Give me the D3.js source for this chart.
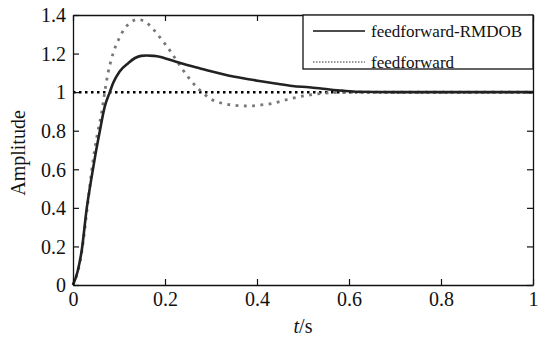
<!DOCTYPE html>
<html><head><meta charset="utf-8">
<script src="https://cdn.jsdelivr.net/npm/d3@7"></script>
<style>body{margin:0;background:#fff}svg{display:block}text{font-family:"Liberation Serif","Times New Roman",serif;fill:#111}</style>
</head><body><svg id="c" width="547" height="339"></svg>
<script>
const seriesNames = ["feedforward-RMDOB", "feedforward"];
const xTicks = [0, 0.2, 0.4, 0.6, 0.8, 1];
const yTicks = [0, 0.2, 0.4, 0.6, 0.8, 1, 1.2, 1.4];
const xTickLabels = ["0", "0.2", "0.4", "0.6", "0.8", "1"];
const yTickLabels = ["0", "0.2", "0.4", "0.6", "0.8", "1", "1.2", "1.4"];
const tRMDOB = [0,0.01,0.019,0.03,0.04,0.049,0.058,0.069,0.08,0.087,0.101,0.12,0.135,0.148,0.16,0.175,0.188,0.205,0.224,0.25,0.275,0.3,0.333,0.37,0.405,0.44,0.477,0.513,0.55,0.585,0.62,0.7,0.8,1.0];
const yRMDOB = [0,0.07,0.18,0.4,0.553,0.68,0.795,0.925,1.0,1.046,1.106,1.15,1.177,1.188,1.19,1.188,1.184,1.172,1.158,1.14,1.124,1.108,1.089,1.072,1.058,1.045,1.032,1.025,1.016,1.008,1.002,1.0,1.0,1.0];
const tFF = [0,0.019,0.03,0.04,0.047,0.054,0.062,0.069,0.076,0.083,0.093,0.102,0.112,0.123,0.132,0.141,0.15,0.16,0.175,0.188,0.2,0.21,0.225,0.239,0.253,0.268,0.283,0.297,0.32,0.347,0.365,0.383,0.41,0.434,0.455,0.477,0.513,0.55,0.6,0.7,1.0];
const yFF = [0,0.17,0.38,0.58,0.7,0.795,0.89,1.0,1.098,1.167,1.24,1.287,1.33,1.357,1.372,1.377,1.373,1.36,1.325,1.287,1.25,1.218,1.165,1.115,1.07,1.028,0.995,0.968,0.945,0.933,0.929,0.928,0.934,0.942,0.955,0.968,0.985,0.995,1.0,1.0,1.0];
const refT = [0, 1];
const refY = [1, 1];

const svg = d3.select("#c");
const L = 73, R = 533, T = 15, B = 285;
const x = d3.scaleLinear().domain([0, 1]).range([L, R]);
const y = d3.scaleLinear().domain([0, 1.4]).range([B, T]);

const g = svg.append("g");
const line = d3.line().x(d => x(d[0])).y(d => y(d[1])).curve(d3.curveMonotoneX);
g.append("path").datum(d3.zip(refT, refY)).attr("d", line)
  .attr("fill", "none").attr("stroke", "#000").attr("stroke-width", 2.5).attr("stroke-dasharray", "2.5,3.5");
g.append("path").datum(d3.zip(tFF, yFF)).attr("d", line)
  .attr("fill", "none").attr("stroke", "#777").attr("stroke-width", 2.8).attr("stroke-dasharray", "2.8,5.5");
g.append("path").datum(d3.zip(tRMDOB, yRMDOB)).attr("d", line)
  .attr("fill", "none").attr("stroke", "#222").attr("stroke-width", 2.6);

const fmtX = (d, i) => xTickLabels[i];
const fmtY = (d, i) => yTickLabels[i];
const ax = svg.append("g").attr("transform", `translate(0,${B})`)
  .call(d3.axisBottom(x).tickValues(xTicks).tickFormat(fmtX).tickSizeInner(-6).tickSizeOuter(0).tickPadding(7));
const axT = svg.append("g").attr("transform", `translate(0,${T})`)
  .call(d3.axisTop(x).tickValues(xTicks).tickFormat("").tickSizeInner(-6).tickSizeOuter(0));
const ay = svg.append("g").attr("transform", `translate(${L},0)`)
  .call(d3.axisLeft(y).tickValues(yTicks).tickFormat(fmtY).tickSizeInner(-6).tickSizeOuter(0).tickPadding(7));
const ayR = svg.append("g").attr("transform", `translate(${R},0)`)
  .call(d3.axisRight(y).tickValues(yTicks).tickFormat("").tickSizeInner(-6).tickSizeOuter(0));
[ax, axT, ay, ayR].forEach(a => {
  a.attr("font-family", '"Liberation Serif",serif');
  a.selectAll("path.domain").attr("stroke", "#111").attr("stroke-width", 1.3);
  a.selectAll(".tick line").attr("stroke", "#111").attr("stroke-width", 1.2);
  a.selectAll("text").style("font-family", '"Liberation Serif",serif').style("font-size", "20px").attr("fill", "#111");
});
ax.selectAll("text").attr("dy", "0.68em");
ay.selectAll("text").attr("dy", "0.34em");

svg.append("text").attr("x", 303).attr("y", 333).attr("text-anchor", "middle").style("font-size", "20px")
  .html('<tspan font-style="italic">t</tspan>/s');
svg.append("text").attr("transform", "translate(25,153) rotate(-90)").attr("text-anchor", "middle")
  .style("font-size", "20px").text("Amplitude");

const lg = svg.append("g");
lg.append("rect").attr("x", 303).attr("y", T).attr("width", R - 303).attr("height", 54)
  .attr("fill", "#fff").attr("stroke", "#111").attr("stroke-width", 1.3);
const legY = [31, 62];
const legStyle = [{c: "#111", w: 1.3, d: null}, {c: "#333", w: 1, d: "1.5,1.5"}];
seriesNames.forEach((n, i) => {
  const l = lg.append("line").attr("x1", 313).attr("x2", 365).attr("y1", legY[i]).attr("y2", legY[i])
    .attr("stroke", legStyle[i].c).attr("stroke-width", legStyle[i].w);
  if (legStyle[i].d) l.attr("stroke-dasharray", legStyle[i].d);
  lg.append("text").attr("x", 371).attr("y", legY[i] + 5.5).style("font-size", "17px").text(n);
});
</script></body></html>
